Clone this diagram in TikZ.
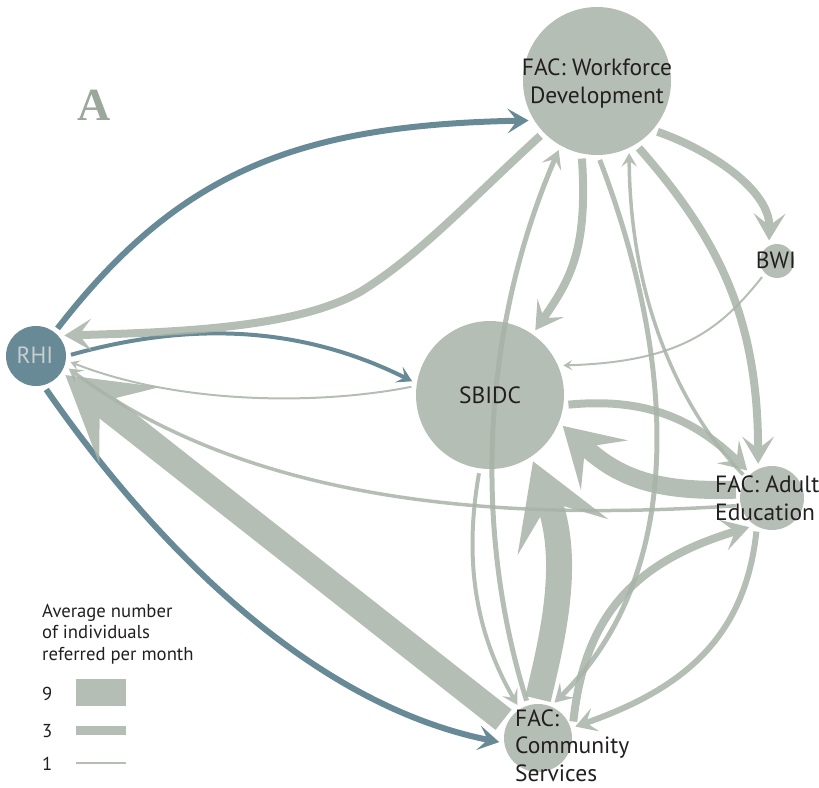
\documentclass[tikz,border=0pt]{standalone}
\usepackage{fontspec}
\setmainfont{PT Sans}
\newfontfamily\letterfont{Liberation Serif}
\usetikzlibrary{arrows.meta}

\definecolor{hubgray}{RGB}{181,190,181}
\definecolor{flowgray}{RGB}{168,179,168}
\definecolor{rhiblue}{RGB}{103,138,150}
\definecolor{inkdark}{RGB}{35,31,32}
\definecolor{lettergray}{RGB}{154,167,154}
\definecolor{rhitext}{RGB}{200,206,208}

% one translucent referral flow, drawn as a group so head and shaft do not double up
\newcommand\flowline[2]{%
  \begin{scope}[transparency group, opacity=.85]
    \draw[flow=#1] #2;
  \end{scope}}

\begin{document}
\begin{tikzpicture}[x=1pt, y=-1pt,
  hub/.style={circle, fill=hubgray, inner sep=0pt, outer sep=5pt, minimum size=#1},
  headtip/.style={-{Stealth[length=3pt 3, width=3pt 3.6, inset=1pt 1.4]}},
  flow/.style={draw=flowgray, line width=#1, headtip},
  link/.style={draw=rhiblue, line width=#1, headtip},
  lab/.style={font=\fontsize{23.5}{27.5}\selectfont, text=inkdark, inner sep=0pt, anchor=base},
  legtext/.style={font=\fontsize{18.7}{21.5}\selectfont, text=inkdark, inner sep=0pt, anchor=base west, align=left},
]
\useasboundingbox (0,0) rectangle (819,787);

% agencies
\node[hub=148pt] (wfd)   at (597,81)  {};
\node[hub=34pt]  (bwi)   at (777,261) {};
\node[hub=60pt, fill=rhiblue] (rhi) at (36,356) {};
\node[hub=148pt] (sbidc) at (490,395) {};
\node[hub=64pt]  (adult) at (772,498) {};
\node[hub=68pt]  (comm)  at (538,738) {};

% referrals sent by RHI
\draw[link=6pt] (rhi.52) .. controls (180,170) and (300,125) .. (wfd.210);
\draw[link=4pt] (rhi.2) .. controls (160,330) and (280,315) .. (sbidc.170);
\draw[link=6pt] (rhi.287) .. controls (130,510) and (290,700) .. (comm.186);

% referrals between the other agencies
\flowline{8pt}{(wfd.224) .. controls (470,200) and (420,255) .. (360,292) .. controls (300,325) and (200,332) .. (rhi.36)}
\flowline{2pt}{(sbidc.174) .. controls (320,405) and (180,405) .. (rhi.350)}
\flowline{3.5pt}{(adult.192) .. controls (520,520) and (260,510) .. (rhi.339)}
\flowline{26pt}{(comm.152) -- (rhi.327)}
\flowline{8pt}{(wfd.259) .. controls (588,250) and (570,280) .. (sbidc.55)}
\flowline{5pt}{(comm.107) .. controls (470,520) and (485,320) .. (wfd.241)}
\flowline{5pt}{(wfd.272) .. controls (665,330) and (700,560) .. (comm.65)}
\flowline{8pt}{(wfd.320) .. controls (710,150) and (770,190) .. (bwi.111)}
\flowline{8pt}{(wfd.302) .. controls (720,240) and (758,320) .. (adult.112)}
\flowline{3.5pt}{(adult.141) .. controls (680,410) and (630,300) .. (wfd.294)}
\flowline{2pt}{(bwi.227) .. controls (720,330) and (680,362) .. (sbidc.22)}
\flowline{8pt}{(sbidc.353) .. controls (640,398) and (690,415) .. (adult.132)}
\flowline{18pt}{(adult.167) .. controls (660,492) and (620,480) .. (sbidc.337)}
\flowline{26pt}{(comm.90) .. controls (552,640) and (572,560) .. (sbidc.303)}
\flowline{8pt}{(comm.25) .. controls (585,610) and (640,560) .. (adult.232)}
\flowline{6pt}{(adult.245) .. controls (745,640) and (680,690) .. (comm.17)}
\flowline{4pt}{(sbidc.262) .. controls (462,570) and (480,640) .. (comm.122)}

% agency names (multi-line names sit on the baseline of their last line)
\node[lab, align=center] (wfdname) at (597,103) {FAC: Workforce\\Development};
\node[lab] (bwiname) at (776,268) {BWI};
\node[lab, text=rhitext] (rhiname) at (35,363) {RHI};
\node[lab] (sbidcname) at (490,403) {SBIDC};
\node[lab, anchor=base west, align=left] (adultname) at (715,520) {FAC: Adult\\Education};
\node[lab, anchor=base west, align=left] (commname) at (515,781) {FAC:\\Community\\Services};

% panel letter
\node[inner sep=0pt, anchor=base, text=lettergray, font=\letterfont\bfseries\fontsize{46}{46}\selectfont] (panel) at (94,120) {A};

% legend
\node[legtext] (legtitle) at (42,660) {Average number\\of individuals\\referred per month};
\node[legtext] (nine)  at (42,700) {9};
\node[legtext] (three) at (42,737) {3};
\node[legtext] (one)   at (42,770) {1};
\fill[hubgray] (76,679) rectangle (126,706);
\fill[hubgray] (76,726) rectangle (126,735);
\draw[hubgray, line width=1.5pt] (76,763) -- (126,763);
\end{tikzpicture}
\end{document}
